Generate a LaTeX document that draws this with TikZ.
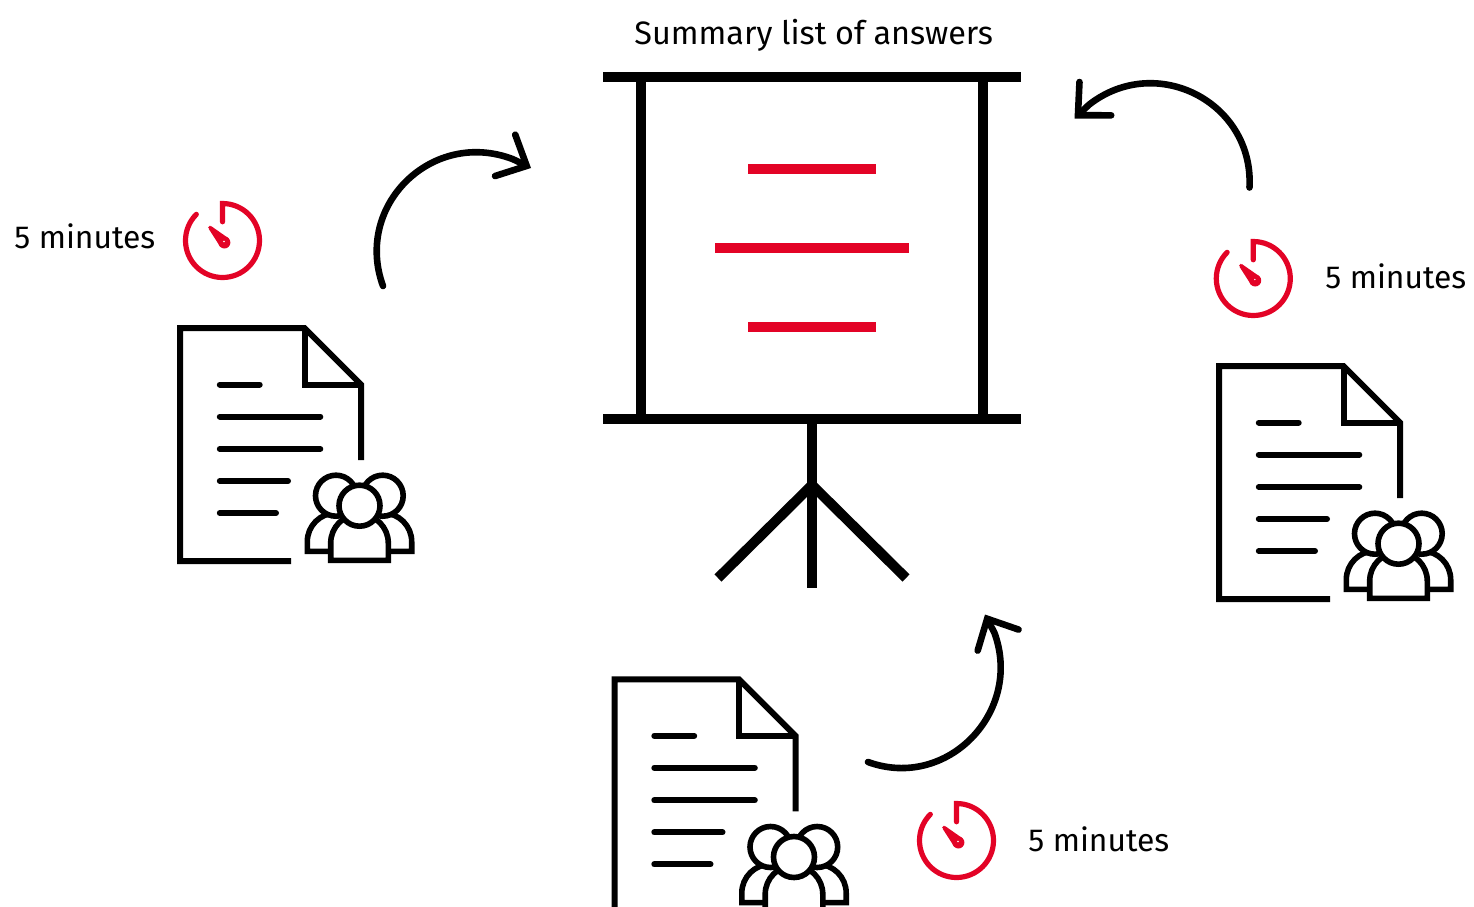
\documentclass[tikz,border=0pt]{standalone}
\usepackage{fontspec}
\setmainfont{Fira Sans}
\usepackage{tikz}
\usetikzlibrary{arrows.meta}
\definecolor{timerred}{HTML}{E30326}
\tikzset{
    heavy/.style={line width=5pt},
    redbar/.style={line width=5pt,color=timerred},
    textrow/.style={line width=3pt,line cap=round},
    thin outline/.style={line width=3pt,miter limit=4},
    people/.style={line width=2.8pt},
    curvearrow/.style={line width=3.3pt,line cap=round,->},
    caption/.style={anchor=base west,inner sep=0pt,font=\fontsize{16.2}{18}\selectfont},
    timecaption/.style={caption,font=\fontsize{15.9}{18}\selectfont},
    docgroup/.pic={
        \draw[thin outline](111,-233)--(0,-233)--(0,0)--(124.5,0)--(181,-56.5)--(181,-132);
        \draw[thin outline](124.5,0)--(124.5,-56.5)--(181,-56.5);
        \draw[textrow](39.8,-56.5)--(79.7,-56.5);
        \draw[textrow](39.8,-88.5)--(140.3,-88.5);
        \draw[textrow](39.8,-121)--(140.3,-121);
        \draw[textrow](39.8,-153)--(108,-153);
        \draw[textrow](39.8,-185)--(96,-185);
        \draw[people](150.7,-223.3)--(127.3,-223.3)--(127.3,-213.7) arc[start angle=180,end angle=90,radius=28.7];
        \draw[people](208.3,-223.3)--(231.7,-223.3)--(231.7,-213.7) arc[start angle=0,end angle=90,radius=28.7];
        \draw[people,fill=white](156,-167.7) circle[radius=20.5];
        \draw[people,fill=white](202.7,-167.7) circle[radius=20.5];
        \draw[people,fill=white](150.7,-232.3)--(150.7,-215) arc[start angle=180,end angle=0,radius=28.8]--(208.3,-232.3)--cycle;
        \draw[people,fill=white](179.5,-177.7) circle[radius=20.5];
    },
    stopwatch/.pic={
        \draw[timerred,line width=2.6pt,line cap=round](-0.5,18.7)--(-0.5,37) arc[start angle=90,end angle=-225,radius=37];
        \fill[timerred](-11.7,14.3)--(5.6,2.2)--(-2.8,-6.2)--(-14.3,11.7)--cycle;
        \fill[timerred](-13,13) circle[radius=1.8];
        \fill[timerred](1.4,-2) circle[radius=6];
        \fill[white](1,-1) circle[radius=0.8];
    }
}
\begin{document}
\begin{tikzpicture}[x=0.5pt,y=0.5pt,>={Straight Barb[length=12pt,width=23pt,line cap=round,line join=miter]}]
    \clip (0,0) rectangle (1474,-906);
    \node[caption] (title) at (634,-44) {Summary list of answers};
    \draw[heavy](603,-76.5)--(1021,-76.5);
    \draw[heavy](603,-418.5)--(1021,-418.5);
    \draw[heavy](640.5,-76.5)--(640.5,-418.5);
    \draw[heavy](983,-76.5)--(983,-418.5);
    \draw[heavy](812,-418.5)--(812,-588);
    \draw[heavy](718,-578)--(812,-485)--(906,-578);
    \draw[redbar](748,-169)--(876,-169);
    \draw[redbar](715,-248)--(909,-248);
    \draw[redbar](748,-326.5)--(876,-326.5);
    \pic at (180,-328) {docgroup};
    \pic at (1219,-366) {docgroup};
    \pic at (614.5,-679.3) {docgroup};
    \pic at (223,-240.5) {stopwatch};
    \pic at (1253.8,-278.5) {stopwatch};
    \pic at (957,-840.5) {stopwatch};
    \node[timecaption] (timeleft) at (14,-248) {5 minutes};
    \node[timecaption] (timeright) at (1325,-288) {5 minutes};
    \node[timecaption] (timebottom) at (1028,-851) {5 minutes};
    \coordinate (startleft) at (383,-286);
    \coordinate (nearleft) at (513,-159.2);
    \coordinate (endleft) at (531,-168);
    \coordinate (startright) at (1249.5,-187.5);
    \coordinate (nearright) at (1089,-104.7);
    \coordinate (endright) at (1074.5,-118.5);
    \coordinate (startbottom) at (868,-762);
    \coordinate (nearbottom) at (994.5,-633);
    \coordinate (endbottom) at (985,-614.5);
    \draw[curvearrow](startleft) to[out=110,in=159,looseness=1.21] (nearleft)--(endleft);
    \draw[curvearrow](startright) to[out=87,in=38,looseness=1.21] (nearright)--(endright);
    \draw[curvearrow](startbottom) to[out=-20,in=-70,looseness=1.19] (nearbottom)--(endbottom);
\end{tikzpicture}
\end{document}
